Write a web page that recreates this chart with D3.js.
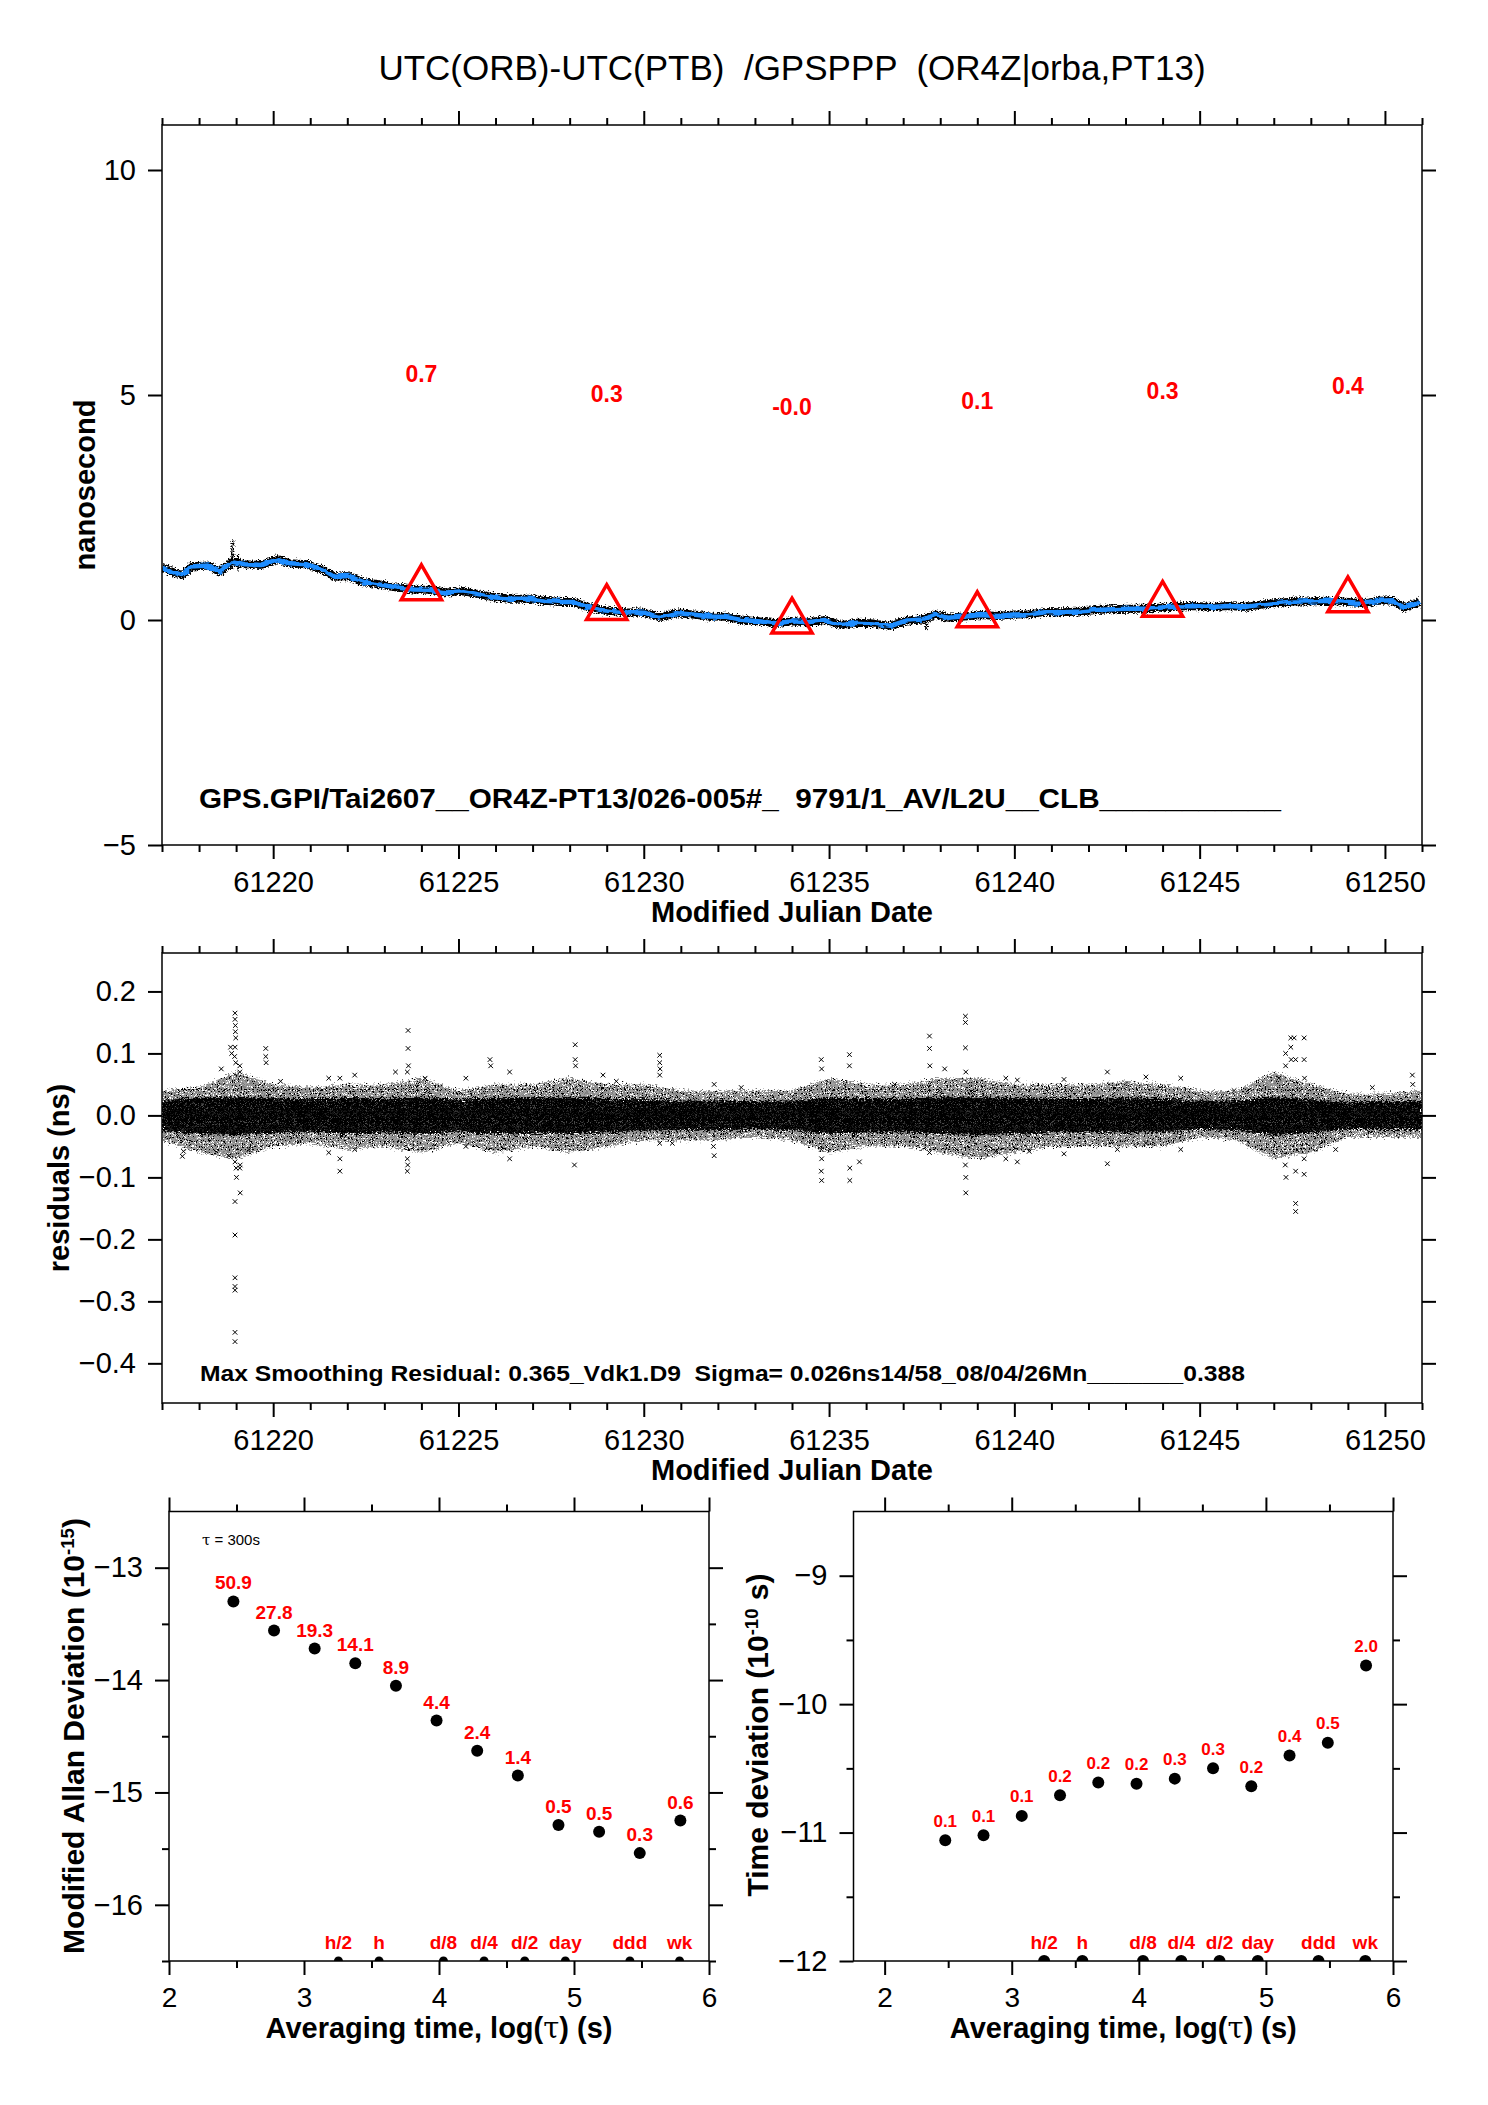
<!DOCTYPE html>
<html>
<head>
<meta charset="utf-8">
<script src="https://cdn.jsdelivr.net/npm/d3@7"></script>
<style>
body { margin: 0; background: #fff; }
text { font-family: "Liberation Sans", Arial, Helvetica, sans-serif; }
</style>
</head>
<body>
<div id="chart"></div>
<script>
// ---- data ----

// top panel: smoothed UTC(ORB)-UTC(PTB), ns
const offsetMjd = [61217.01,61217.34,61217.56,61217.79,61218.23,61218.56,61218.90,61219.23,61219.67,61220.12,
  61220.45,61220.89,61221.34,61221.67,61222.00,61222.45,61222.89,61223.34,61223.78,61224.22,
  61224.67,61225.11,61225.56,61226.00,61226.44,61226.89,61227.33,61227.78,61228.11,61228.44,
  61228.79,61229.11,61229.56,61230.00,61230.44,61230.88,61231.33,61231.77,61232.22,61232.66,
  61233.10,61233.55,61233.99,61234.43,61234.88,61235.32,61235.77,61236.21,61236.65,61237.10,
  61237.54,61237.88,61238.21,61238.65,61239.10,61239.54,61239.98,61240.43,61240.87,61241.32,
  61241.76,61242.20,61242.65,61243.09,61243.54,61243.98,61244.42,61244.87,61245.31,61245.76,
  61246.20,61246.65,61247.09,61247.53,61247.98,61248.42,61248.86,61249.20,61249.53,61249.86,
  61250.19,61250.52,61250.93];
const offsetNs = [1.16,1.05,1.00,1.19,1.21,1.07,1.30,1.24,1.22,1.35,
  1.26,1.24,1.12,0.96,0.98,0.84,0.79,0.72,0.68,0.67,
  0.61,0.64,0.57,0.50,0.47,0.47,0.43,0.40,0.40,0.30,
  0.23,0.20,0.17,0.16,0.07,0.15,0.12,0.08,0.07,0.00,
  -0.03,-0.07,-0.03,-0.05,0.00,-0.11,-0.06,-0.08,-0.13,-0.01,
  0.01,0.12,0.05,0.08,0.11,0.09,0.12,0.13,0.18,0.17,
  0.19,0.22,0.24,0.25,0.25,0.28,0.30,0.31,0.29,0.31,
  0.29,0.34,0.38,0.41,0.41,0.43,0.41,0.39,0.38,0.43,
  0.44,0.27,0.40];
// isolated raw-data excursions: [mjd, from, to]
const offsetSpikes = [[61218.90, 1.15, 1.77], [61237.62, -0.02, -0.22], [61219.05, 1.1, 1.45]];

// monthly marks (triangles) and their printed values
const triMjd = [61224, 61229, 61234, 61239, 61244, 61249];
const triNs = [0.71, 0.27, -0.03, 0.11, 0.34, 0.44];
const triLabels = ["0.7", "0.3", "-0.0", "0.1", "0.3", "0.4"];

// middle panel: residual cloud, per day envelopes (ns)
const resDay = [61217,61218,61219,61220,61221,61222,61223,61224,61225,61226,61227,61228,61229,61230,61231,61232,61233,
  61234,61235,61236,61237,61238,61239,61240,61241,61242,61243,61244,61245,61246,61247,61248,61249,61250,61251];
const resHi = [0.040,0.045,0.070,0.050,0.045,0.050,0.050,0.060,0.040,0.050,0.050,0.060,0.050,0.050,0.040,0.040,0.040,
  0.040,0.060,0.050,0.050,0.060,0.060,0.050,0.050,0.050,0.055,0.050,0.040,0.040,0.070,0.050,0.035,0.035,0.040];
const resLo = [-0.040,-0.060,-0.070,-0.050,-0.045,-0.055,-0.050,-0.060,-0.045,-0.060,-0.050,-0.060,-0.050,-0.040,-0.040,-0.040,-0.035,
  -0.040,-0.060,-0.050,-0.050,-0.060,-0.070,-0.060,-0.050,-0.050,-0.050,-0.050,-0.035,-0.040,-0.070,-0.060,-0.035,-0.035,-0.035];
const coreHi = [0.025,0.028,0.030,0.028,0.026,0.028,0.027,0.030,0.025,0.028,0.028,0.030,0.027,0.026,0.024,0.024,0.023,
  0.024,0.028,0.027,0.027,0.030,0.030,0.028,0.027,0.027,0.028,0.027,0.024,0.024,0.030,0.026,0.022,0.022,0.024];
const coreLo = [-0.025,-0.030,-0.032,-0.028,-0.026,-0.030,-0.027,-0.030,-0.026,-0.030,-0.028,-0.030,-0.027,-0.025,-0.024,-0.024,-0.022,
  -0.024,-0.030,-0.027,-0.027,-0.030,-0.032,-0.030,-0.027,-0.027,-0.027,-0.027,-0.022,-0.024,-0.032,-0.028,-0.022,-0.022,-0.022];
// individual outlying residuals: [mjd, ns]
const resOutliers = [
  [61217.55,-0.066],[61217.58,-0.058],[61218.60,0.075],[61218.80,-0.065],[61218.85,0.110],[61218.88,0.100],
  [61218.97,0.165],[61218.97,0.155],[61218.98,0.145],[61218.98,0.135],[61218.99,0.125],[61218.97,0.110],[61218.96,0.095],[61218.99,0.085],
  [61218.97,-0.075],[61219.00,-0.085],[61219.01,-0.100],[61218.97,-0.139],[61218.97,-0.193],[61218.97,-0.262],[61218.97,-0.276],
  [61218.97,-0.282],[61218.97,-0.350],[61218.97,-0.365],[61219.10,0.080],[61219.10,0.070],[61219.11,-0.080],[61219.10,-0.085],
  [61219.11,-0.125],[61219.35,-0.055],[61219.80,0.108],[61219.80,0.095],[61219.81,0.085],[61220.20,0.055],[61221.50,0.060],
  [61221.50,-0.060],[61221.80,0.060],[61221.80,-0.070],[61221.80,-0.090],[61222.20,0.065],[61222.20,-0.055],[61223.30,0.070],
  [61223.64,0.137],[61223.64,0.108],[61223.65,0.080],[61223.62,0.070],[61223.62,-0.070],[61223.63,-0.080],[61223.62,-0.090],
  [61224.10,0.060],[61225.20,0.060],[61225.20,-0.050],[61225.85,0.090],[61225.87,0.080],[61226.38,0.070],[61226.38,-0.070],
  [61228.15,0.114],[61228.15,0.090],[61228.16,0.080],[61228.13,-0.080],[61228.90,0.065],[61229.26,0.055],[61230.43,0.097],
  [61230.43,0.085],[61230.44,0.075],[61230.43,0.065],[61230.43,-0.045],[61230.77,-0.045],[61231.88,-0.050],[61231.90,-0.065],
  [61231.90,0.050],[61232.63,0.045],[61234.79,0.090],[61234.80,0.075],[61234.79,-0.055],[61234.80,-0.070],[61234.79,-0.090],
  [61234.80,-0.105],[61235.55,0.098],[61235.55,0.080],[61235.56,-0.085],[61235.56,-0.105],[61235.82,-0.075],[61236.77,0.050],
  [61237.71,0.128],[61237.71,0.108],[61237.72,0.080],[61237.71,-0.060],[61238.12,0.075],[61238.68,0.160],[61238.68,0.150],
  [61238.68,0.109],[61238.69,0.070],[61238.68,-0.080],[61238.69,-0.100],[61238.69,-0.125],[61239.50,-0.058],[61239.77,0.060],
  [61239.77,-0.070],[61240.08,0.057],[61240.08,-0.075],[61240.40,-0.058],[61241.34,0.058],[61241.34,-0.062],[61242.51,0.070],
  [61242.51,-0.078],[61242.78,-0.055],[61243.55,0.062],[61243.55,-0.045],[61244.49,0.060],[61244.49,-0.055],[61245.93,0.040],
  [61247.14,0.060],[61247.32,0.100],[61247.32,0.080],[61247.31,-0.080],[61247.33,-0.100],[61247.46,0.125],[61247.46,0.110],
  [61247.47,0.090],[61247.55,0.125],[61247.59,0.090],[61247.59,-0.090],[61247.59,-0.142],[61247.59,-0.155],[61247.82,0.125],
  [61247.82,0.090],[61247.83,0.060],[61247.82,-0.070],[61247.82,-0.095],[61248.67,-0.055],[61249.66,0.045],[61250.74,0.065],
  [61250.75,0.050]
];

// bottom panels: log10(tau) and log10 of deviations
const tauLog = [2.477, 2.778, 3.079, 3.380, 3.681, 3.982, 4.283, 4.584, 4.885, 5.186, 5.487, 5.788];
const madevLog = [-13.30, -13.56, -13.72, -13.85, -14.05, -14.36, -14.63, -14.85, -15.29, -15.35, -15.54, -15.25];
const madevLabels = ["50.9","27.8","19.3","14.1","8.9","4.4","2.4","1.4","0.5","0.5","0.3","0.6"];
const tdevLog = [-11.06, -11.02, -10.87, -10.71, -10.61, -10.62, -10.58, -10.50, -10.64, -10.40, -10.30, -9.70];
const tdevLabels = ["0.1","0.1","0.1","0.2","0.2","0.2","0.3","0.3","0.2","0.4","0.5","2.0"];
const markLog = [3.255, 3.556, 4.033, 4.334, 4.635, 4.936, 5.414, 5.782];
const markLabels = ["h/2","h","d/8","d/4","d/2","day","ddd","wk"];

// tick values
const mjdMajor = [61220, 61225, 61230, 61235, 61240, 61245, 61250];
const mjdMinor = d3.range(61217, 61252).filter(d => d % 5 != 0);
const nsTicks = [-5, 0, 5, 10];
const resTicks = [-0.4, -0.3, -0.2, -0.1, 0.0, 0.1, 0.2];
const logMajor = [2, 3, 4, 5, 6];
const logMinor = [2.5, 3.5, 4.5, 5.5];
const madevMajor = [-16, -15, -14, -13];
const madevMinor = [-16.5, -15.5, -14.5, -13.5];
const tdevMajor = [-12, -11, -10, -9];
const tdevMinor = [-11.5, -10.5, -9.5];

// ---- drawing ----
let w = 1488;
let h = 2105;
const RED = "#ff0000";
const BLUE = "#1e8cff";

let svg = d3.select("#chart").append("svg")
  .attr("width", w)
  .attr("height", h)
  .attr("style", "background-color: #fff");

let defs = svg.append("defs");

// crosses texture for the residual cloud
let pSparse = defs.append("pattern").attr("id", "xsparse")
  .attr("patternUnits", "userSpaceOnUse").attr("width", 4).attr("height", 4);
pSparse.append("path").attr("d", "M0.5,0.5L3.5,3.5M3.5,0.5L0.5,3.5")
  .attr("stroke", "#000").attr("stroke-width", 1.1);
let pDense = defs.append("pattern").attr("id", "xdense")
  .attr("patternUnits", "userSpaceOnUse").attr("width", 3.2).attr("height", 3.2);
pDense.append("rect").attr("width", 3.2).attr("height", 3.2).attr("fill", "#000");
pDense.append("path").attr("d", "M1.6,0.2L1.6,0.9")
  .attr("stroke", "#fff").attr("stroke-width", 0.7);

// ragged edges for the noisy raw data (visual texture only)
function roughFilter(id, freq, scale) {
  let f = defs.append("filter").attr("id", id)
    .attr("filterUnits", "userSpaceOnUse")
    .attr("x", 0).attr("y", 0).attr("width", w).attr("height", h);
  f.append("feTurbulence").attr("type", "fractalNoise")
    .attr("baseFrequency", freq).attr("numOctaves", 2).attr("seed", 7).attr("result", "n");
  f.append("feDisplacementMap").attr("in", "SourceGraphic").attr("in2", "n")
    .attr("scale", scale).attr("xChannelSelector", "R").attr("yChannelSelector", "G");
  return "url(#" + id + ")";
}
let roughBlack = roughFilter("rough1", "0.6 0.9", 7);
let roughBlue = roughFilter("rough2", "0.08 0.25", 5);
let roughCloud = roughFilter("rough3", "0.5 0.7", 11);

function clip(id, x, y) {
  defs.append("clipPath").attr("id", id).append("rect")
    .attr("x", x.range()[0]).attr("y", y.range()[1])
    .attr("width", x.range()[1] - x.range()[0])
    .attr("height", y.range()[0] - y.range()[1]);
  return "url(#" + id + ")";
}

function styleAxis(sel, fs) {
  sel.select(".domain").remove();
  sel.selectAll(".tick line").attr("stroke", "#000").attr("stroke-width", 2);
  sel.selectAll(".tick text").attr("fill", "#000").attr("font-size", fs)
    .attr("font-family", "'Liberation Sans', Arial, sans-serif");
}

// four sided frame with outward ticks, labels bottom and left
function frame(x, y, o) {
  let g = svg.append("g");
  let [xl, xr] = x.range();
  let [yb, yt] = y.range();
  let add = (axis, tx, ty, fs) => g.append("g")
    .attr("transform", `translate(${tx},${ty})`).call(axis).call(styleAxis, fs);

  add(d3.axisBottom(x).tickValues(o.xMajor).tickSize(14).tickPadding(12).tickFormat(o.xFmt), 0, yb, o.xFont);
  add(d3.axisTop(x).tickValues(o.xMajor).tickSize(14).tickFormat(""), 0, yt);
  if (o.xMinor) {
    add(d3.axisBottom(x).tickValues(o.xMinor).tickSize(7).tickFormat(""), 0, yb);
    add(d3.axisTop(x).tickValues(o.xMinor).tickSize(7).tickFormat(""), 0, yt);
  }
  add(d3.axisLeft(y).tickValues(o.yMajor).tickSize(14).tickPadding(12).tickFormat(o.yFmt), xl, 0, o.yFont);
  add(d3.axisRight(y).tickValues(o.yMajor).tickSize(14).tickFormat(""), xr, 0);
  if (o.yMinor) {
    add(d3.axisLeft(y).tickValues(o.yMinor).tickSize(7).tickFormat(""), xl, 0);
    add(d3.axisRight(y).tickValues(o.yMinor).tickSize(7).tickFormat(""), xr, 0);
  }
  g.append("rect")
    .attr("x", xl).attr("y", yt)
    .attr("width", xr - xl).attr("height", yb - yt)
    .attr("fill", "none").attr("stroke", "#000").attr("stroke-width", 1.5);
  return g;
}

function vLabel(x, y, txt, sup, tail, fs) {
  let t = svg.append("text")
    .attr("transform", `translate(${x},${y}) rotate(-90)`)
    .attr("text-anchor", "middle")
    .attr("font-size", fs).attr("font-weight", "bold");
  t.append("tspan").text(txt);
  if (sup) {
    t.append("tspan").attr("baseline-shift", "super").attr("font-size", fs * 0.62).text(sup);
    t.append("tspan").text(tail);
  }
  return t;
}

// title
svg.append("text")
  .attr("x", 792).attr("y", 80)
  .attr("text-anchor", "middle")
  .attr("font-size", 35)
  .style("white-space", "pre")
  .text("UTC(ORB)-UTC(PTB)  /GPSPPP  (OR4Z|orba,PT13)");

// ---------- panel 1 ----------
let x1 = d3.scaleLinear().domain([61217, 61251]).range([162, 1422]);
let y1 = d3.scaleLinear().domain([-5, 11]).range([845, 125]);

let p1 = svg.append("g").attr("clip-path", clip("c1", x1, y1));
let offsetLine = d3.line().x(d => x1(d[0])).y(d => y1(d[1]));
let offsetData = d3.zip(offsetMjd, offsetNs);

let raw = p1.append("g").attr("filter", roughBlack);
raw.append("path").datum(offsetData)
  .attr("d", offsetLine)
  .attr("fill", "none").attr("stroke", "#000").attr("stroke-width", 8)
  .attr("stroke-linejoin", "round");
raw.selectAll("line.spike")
  .data(offsetSpikes)
  .join("line")
  .attr("class", "spike")
  .attr("x1", d => x1(d[0])).attr("x2", d => x1(d[0]))
  .attr("y1", d => y1(d[1])).attr("y2", d => y1(d[2]))
  .attr("stroke", "#000").attr("stroke-width", 2);
p1.append("path").datum(offsetData)
  .attr("d", offsetLine)
  .attr("filter", roughBlue)
  .attr("fill", "none").attr("stroke", BLUE).attr("stroke-width", 4.5)
  .attr("stroke-linejoin", "round");

let tri = d3.symbol().type(d3.symbolTriangle).size(700);
svg.selectAll("path.tri")
  .data(d3.zip(triMjd, triNs))
  .join("path")
  .attr("class", "tri")
  .attr("transform", d => `translate(${x1(d[0])},${y1(d[1])})`)
  .attr("d", tri)
  .attr("fill", "none").attr("stroke", RED).attr("stroke-width", 3.5);

svg.selectAll("text.trilab")
  .data(d3.zip(triMjd, triNs, triLabels))
  .join("text")
  .attr("class", "trilab")
  .attr("x", d => x1(d[0]))
  .attr("y", d => y1(d[1]) - 206)
  .attr("text-anchor", "middle")
  .attr("font-size", 23).attr("font-weight", "bold")
  .attr("fill", RED)
  .text(d => d[2]);

frame(x1, y1, {
  xMajor: mjdMajor, xMinor: mjdMinor, xFmt: d3.format("d"), xFont: 29,
  yMajor: nsTicks, yFmt: d3.format("d"), yFont: 29
});

svg.append("text")
  .attr("x", 199).attr("y", 808)
  .attr("font-size", 28).attr("font-weight", "bold")
  .attr("textLength", 1082).attr("lengthAdjust", "spacingAndGlyphs")
  .style("white-space", "pre")
  .text("GPS.GPI/Tai2607__OR4Z-PT13/026-005#_  9791/1_AV/L2U__CLB___________");

vLabel(95, 485, "nanosecond", null, null, 29);
svg.append("text")
  .attr("x", 792).attr("y", 922)
  .attr("text-anchor", "middle")
  .attr("font-size", 29).attr("font-weight", "bold")
  .text("Modified Julian Date");

// ---------- panel 2 ----------
let x2 = d3.scaleLinear().domain([61217, 61251]).range([162, 1422]);
let y2 = d3.scaleLinear().domain([-0.464, 0.262]).range([1403, 953]);

let p2 = svg.append("g").attr("clip-path", clip("c2", x2, y2));
let cloud = p2.append("g").attr("filter", roughCloud);
let spread = d3.area()
  .x(d => x2(d[0])).y0(d => y2(d[1])).y1(d => y2(d[2]));
cloud.append("path")
  .datum(d3.zip(resDay, resLo, resHi))
  .attr("d", spread)
  .attr("fill", "url(#xsparse)");
cloud.append("path")
  .datum(d3.zip(resDay, coreLo, coreHi))
  .attr("d", spread)
  .attr("fill", "url(#xdense)");
p2.selectAll("path.out")
  .data(resOutliers)
  .join("path")
  .attr("class", "out")
  .attr("transform", d => `translate(${x2(d[0])},${y2(d[1])})`)
  .attr("d", "M-2.3,-2.3L2.3,2.3M2.3,-2.3L-2.3,2.3")
  .attr("stroke", "#000").attr("stroke-width", 1);

frame(x2, y2, {
  xMajor: mjdMajor, xMinor: mjdMinor, xFmt: d3.format("d"), xFont: 29,
  yMajor: resTicks, yFmt: d3.format(".1f"), yFont: 29
});

svg.append("text")
  .attr("x", 200).attr("y", 1381)
  .attr("font-size", 22).attr("font-weight", "bold")
  .attr("textLength", 1045).attr("lengthAdjust", "spacingAndGlyphs")
  .style("white-space", "pre")
  .text("Max Smoothing Residual: 0.365_Vdk1.D9  Sigma= 0.026ns14/58_08/04/26Mn_______0.388");

vLabel(69, 1178, "residuals (ns)", null, null, 29);
svg.append("text")
  .attr("x", 792).attr("y", 1480)
  .attr("text-anchor", "middle")
  .attr("font-size", 29).attr("font-weight", "bold")
  .text("Modified Julian Date");

// ---------- panels 3 & 4 ----------
function devPanel(id, x, y, vals, labels, yMajor, yMinor, ptFont, ptGap, markR) {
  let g = svg.append("g");
  g.selectAll("circle.pt")
    .data(d3.zip(tauLog, vals))
    .join("circle")
    .attr("class", "pt")
    .attr("cx", d => x(d[0])).attr("cy", d => y(d[1]))
    .attr("r", 6).attr("fill", "#000");
  g.selectAll("text.pt")
    .data(d3.zip(tauLog, vals, labels))
    .join("text")
    .attr("class", "pt")
    .attr("x", d => x(d[0])).attr("y", d => y(d[1]) - ptGap)
    .attr("text-anchor", "middle")
    .attr("font-size", ptFont).attr("font-weight", "bold")
    .attr("fill", RED)
    .text(d => d[2]);

  let yb = y.range()[0];
  let m = svg.append("g").attr("clip-path", clip(id, x, y));
  m.selectAll("circle")
    .data(markLog)
    .join("circle")
    .attr("cx", d => x(d)).attr("cy", yb)
    .attr("r", markR).attr("fill", "#000");
  g.selectAll("text.mk")
    .data(d3.zip(markLog, markLabels))
    .join("text")
    .attr("class", "mk")
    .attr("x", d => x(d[0])).attr("y", yb - 12)
    .attr("text-anchor", "middle")
    .attr("font-size", 19).attr("font-weight", "bold")
    .attr("fill", RED)
    .text(d => d[1]);

  frame(x, y, {
    xMajor: logMajor, xMinor: logMinor, xFmt: d3.format("d"), xFont: 28,
    yMajor: yMajor, yMinor: yMinor, yFmt: d3.format("d"), yFont: 29
  });

  let xt = svg.append("text")
    .attr("x", (x.range()[0] + x.range()[1]) / 2).attr("y", 2038)
    .attr("text-anchor", "middle")
    .attr("font-size", 29).attr("font-weight", "bold");
  xt.append("tspan").text("Averaging time, log(");
  xt.append("tspan").attr("font-family", "'DejaVu Serif', serif").attr("font-weight", "normal").text("τ");
  xt.append("tspan").text(") (s)");
}

let x3 = d3.scaleLinear().domain([2, 6]).range([169, 709]);
let y3 = d3.scaleLinear().domain([-16.5, -12.5]).range([1961, 1511.5]);
devPanel("c3", x3, y3, madevLog, madevLabels, madevMajor, madevMinor, 19, 12, 4.5);

let x4 = d3.scaleLinear().domain([1.755, 6]).range([853.5, 1393]);
let y4 = d3.scaleLinear().domain([-12, -8.5]).range([1961, 1511.5]);
devPanel("c4", x4, y4, tdevLog, tdevLabels, tdevMajor, tdevMinor, 17, 13.5, 6);

let tauNote = svg.append("text")
  .attr("x", 202).attr("y", 1545)
  .attr("font-size", 15);
tauNote.append("tspan").attr("font-family", "'DejaVu Serif', serif").text("τ");
tauNote.append("tspan").text(" = 300s");

vLabel(84, 1736, "Modified Allan Deviation (10", "-15", ")", 30);
vLabel(768, 1735, "Time deviation (10", "-10", " s)", 30);
</script>
</body>
</html>
